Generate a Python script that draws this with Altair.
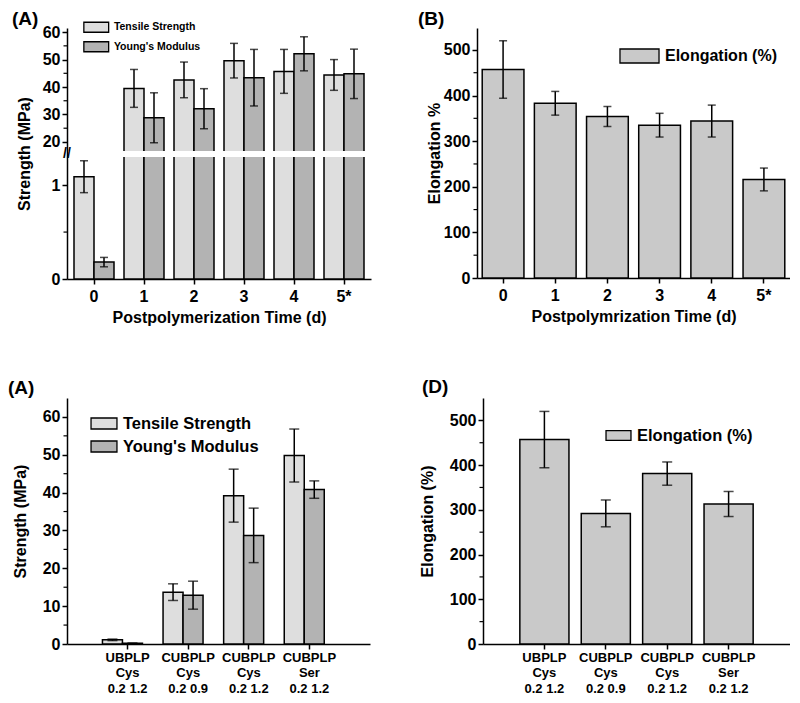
import altair as alt
import pandas as pd

# ---------------- data ----------------
days = ["0", "1", "2", "3", "4", "5*"]
series = ["Tensile Strength", "Young's Modulus"]
ts_mean = [1.09, 39.5, 42.6, 49.6, 45.7, 44.4]
ts_err = [0.17, 6.9, 6.5, 6.3, 8.0, 5.6]
ym_mean = [0.18, 28.8, 32.1, 43.4, 52.1, 44.8]
ym_err = [0.05, 9.1, 7.3, 10.3, 6.2, 9.0]
el_mean = [457, 383, 354, 335, 344, 216]
el_err = [63, 26, 22, 26, 35, 25]

mats = ["UBPLP\nCys\n0.2 1.2", "CUBPLP\nCys\n0.2 0.9", "CUBPLP\nCys\n0.2 1.2", "CUBPLP\nSer\n0.2 1.2"]
mat_ts_mean = [1.1, 13.7, 39.2, 49.8]
mat_ts_err = [0.2, 2.2, 7.0, 7.0]
mat_ym_mean = [0.18, 12.9, 28.7, 40.8]
mat_ym_err = [0.05, 3.7, 7.2, 2.3]
mat_el_mean = [457, 292, 381, 313]
mat_el_err = [63, 30, 26, 28]

el_name = ["Elongation (%)"]

# broken axis of panel A: lower segment 0-1.3, upper segment 16.7-61.5
break_lo = [1.3]
break_hi = [16.7]

minorA = [0.5, 25, 35, 45, 55]
minorB = [50, 150, 250, 350, 450]
minorC = [5, 15, 25, 35, 45, 55]
minorD = [50, 150, 250, 350, 450]

fill_colors = ["#dedede", "#b3b3b3"]
el_color = "#c9c9c9"
FONT = "Liberation Sans"
BLACK = "black"


def long_df(cat_name, cats, m1, e1, m2, e2):
    df = pd.DataFrame({
        cat_name: list(cats) + list(cats),
        "series": [series[0]] * len(cats) + [series[1]] * len(cats),
        "mean": list(m1) + list(m2),
        "err": list(e1) + list(e2),
    })
    df["lo"] = df["mean"] - df["err"]
    df["hi"] = df["mean"] + df["err"]
    return df


def single_df(cat_name, cats, m, e):
    df = pd.DataFrame({cat_name: cats, "mean": m, "err": e, "name": el_name * len(cats)})
    df["lo"] = df["mean"] - df["err"]
    df["hi"] = df["mean"] + df["err"]
    return df


dfA = long_df("day", days, ts_mean, ts_err, ym_mean, ym_err)
dfB = single_df("day", days, el_mean, el_err)
dfC = long_df("mat", mats, mat_ts_mean, mat_ts_err, mat_ym_mean, mat_ym_err)
dfD = single_df("mat", mats, mat_el_mean, mat_el_err)


def rect_path(hw, hh):
    return f"M-{hw},-{hh}H{hw}V{hh}H-{hw}Z"


def legend(x, y, path, size, fs, loff, rowpad=0):
    return alt.Legend(title=None, orient="none", legendX=x, legendY=y, symbolType=path,
                      symbolSize=size, symbolStrokeColor=BLACK, symbolStrokeWidth=1.3,
                      labelFontSize=fs, labelFontWeight="bold", labelFont=FONT, labelColor=BLACK,
                      labelOffset=loff, rowPadding=rowpad, padding=0, symbolOpacity=1)


def layers(df, x, y, fill, cap, off=None):
    base = alt.Chart(df)
    enc = dict(x=x)
    if off is not None:
        enc["xOffset"] = off
    bars = base.mark_bar(stroke=BLACK, strokeWidth=1.5, clip=True).encode(y=y, fill=fill, **enc)
    rule = base.mark_rule(color=BLACK, strokeWidth=1.5).encode(y="lo:Q", y2="hi:Q", **enc)
    top = base.mark_tick(color=BLACK, thickness=1.5, size=cap).encode(y="hi:Q", **enc)
    bot = base.mark_tick(color=BLACK, thickness=1.5, size=cap).encode(y="lo:Q", **enc)
    return [bars, rule, top, bot]


def minor_ticks(values):
    return alt.Chart(pd.DataFrame({"v": values})).mark_rule(color=BLACK, strokeWidth=1.2).encode(
        y="v:Q", x=alt.value(-3.5), x2=alt.value(0))


def panel_label(txt, dx, dy):
    return alt.Chart(pd.DataFrame({"t": [txt]})).mark_text(
        align="left", baseline="alphabetic", fontSize=19, fontWeight="bold", font=FONT, color=BLACK
    ).encode(text="t:N", x=alt.value(dx), y=alt.value(dy))


def fillS(lg):
    return alt.Fill("series:N", sort=series, scale=alt.Scale(domain=series, range=fill_colors), legend=lg)


# ---------------- panel A (broken axis via piecewise scale) ----------------
HA = 251
yscaleA = alt.Scale(domain=[0, break_lo[0], break_hi[0], 61.5], range=[HA, 129, 123, 0],
                    nice=False, zero=False)
xA = alt.X("day:N", sort=days, scale=alt.Scale(paddingInner=0.2, paddingOuter=0.14),
           axis=alt.Axis(title="Postpolymerization Time (d)", labelAngle=0, labelPadding=4, titlePadding=5))
offA = alt.XOffset("series:N", sort=series, scale=alt.Scale(paddingInner=0, paddingOuter=0))
legA = legend(24, -6, rect_path(3.1, 1.25), 64, 10.5, 12.4, 3.5)

gapA = alt.Chart(pd.DataFrame({"lo": break_lo, "hi": break_hi})).mark_rect(color="white").encode(
    y="lo:Q", y2="hi:Q", x=alt.value(1), x2=alt.value(306))
slashA = alt.Chart(pd.DataFrame({"t": ["//"], "v": [9.0]})).mark_text(
    align="center", baseline="middle", fontSize=14, fontWeight="bold", font=FONT, color=BLACK
).encode(text="t:N", x=alt.value(0), y=alt.Y("v:Q"))

panelA = alt.layer(
    *layers(dfA, xA,
            alt.Y("mean:Q", scale=yscaleA,
                  axis=alt.Axis(values=[0, 1, 20, 30, 40, 50, 60], format="d",
                                title="Strength (MPa)", titlePadding=10)),
            fillS(legA), 8, off=offA),
    gapA, slashA,
    minor_ticks(minorA),
    panel_label("(A)", -55, -3),
).properties(width=304, height=HA)

# ---------------- panel B ----------------
legB = legend(153.5, 19, rect_path(2.44, 0.875), 256, 16, 16.5)
xB = alt.X("day:N", sort=days, scale=alt.Scale(paddingInner=0.2, paddingOuter=0.1),
           axis=alt.Axis(title="Postpolymrization Time (d)", labelAngle=0, labelPadding=4, titlePadding=5))
panelB = alt.layer(
    *layers(dfB, xB,
            alt.Y("mean:Q", scale=alt.Scale(domain=[0, 548], nice=False),
                  axis=alt.Axis(values=[0, 100, 200, 300, 400, 500], title="Elongation %", titlePadding=1)),
            alt.Fill("name:N", scale=alt.Scale(domain=el_name, range=[el_color]), legend=legB), 8),
    minor_ticks(minorB),
    panel_label("(B)", -59, -3),
).properties(width=313, height=250)

# ---------------- panel C ----------------
lab_expr = "split(datum.label, '\\n')"
legC = legend(28, 16.5, rect_path(1.62, 0.69), 256, 16.5, 10, 5)
xC = alt.X("mat:N", sort=mats, scale=alt.Scale(paddingInner=0.17, paddingOuter=0.585),
           axis=alt.Axis(title=None, labelAngle=0, labelExpr=lab_expr, labelFontSize=13,
                         labelLineHeight=15.5, labelPadding=2, labelBaseline="top"))
offC = alt.XOffset("series:N", sort=series, scale=alt.Scale(paddingInner=0, paddingOuter=0))
panelC = alt.layer(
    *layers(dfC, xC,
            alt.Y("mean:Q", scale=alt.Scale(domain=[0, 65], nice=False),
                  axis=alt.Axis(values=[0, 10, 20, 30, 40, 50, 60], title="Strength (MPa)", titlePadding=14)),
            fillS(legC), 10, off=offC),
    minor_ticks(minorC),
    panel_label("(A)", -59, -4),
).properties(width=303, height=246)

# ---------------- panel D ----------------
legD = legend(126.5, 28.5, rect_path(1.56, 0.62), 256, 16.5, 9.5)
xD = alt.X("mat:N", sort=mats, scale=alt.Scale(paddingInner=0.2, paddingOuter=0.6),
           axis=alt.Axis(title=None, labelAngle=0, labelExpr=lab_expr, labelFontSize=13,
                         labelLineHeight=15.5, labelPadding=2, labelBaseline="top"))
panelD = alt.layer(
    *layers(dfD, xD,
            alt.Y("mean:Q", scale=alt.Scale(domain=[0, 550], nice=False),
                  axis=alt.Axis(values=[0, 100, 200, 300, 400, 500], title="Elongation (%)", titlePadding=14)),
            alt.Fill("name:N", scale=alt.Scale(domain=el_name, range=[el_color]), legend=legD), 10),
    minor_ticks(minorD),
    panel_label("(D)", -61, -5),
).properties(width=307, height=246)

row1 = alt.hconcat(panelA, panelB, spacing=106, bounds="flush").resolve_scale(fill="independent")
row2 = alt.hconcat(panelC, panelD, spacing=113, bounds="flush").resolve_scale(fill="independent")

chart = alt.vconcat(row1, row2, spacing=53).resolve_scale(fill="independent").properties(
    padding={"top": 2, "left": 0, "right": 0, "bottom": 0})

chart = chart.configure(font=FONT).configure_view(stroke=None).configure_axis(
    domainColor=BLACK, domainWidth=1.5, tickColor=BLACK, tickWidth=1.5, tickSize=5, grid=False,
    labelFont=FONT, labelFontSize=16, labelFontWeight="bold", labelColor=BLACK, labelPadding=2,
    titleFont=FONT, titleFontSize=16, titleFontWeight="bold", titleColor=BLACK,
)

chart.save("out.html", embed_options={"renderer": "svg", "actions": False})
